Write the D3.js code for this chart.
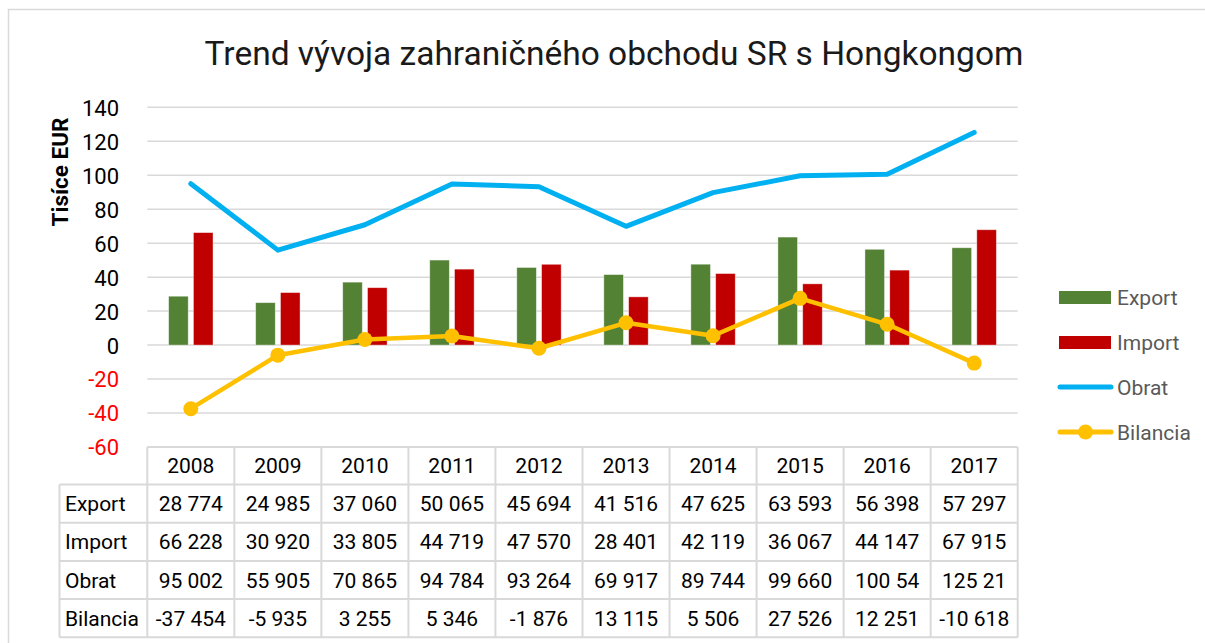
<!DOCTYPE html>
<html><head><meta charset="utf-8">
<script src="https://cdn.jsdelivr.net/npm/d3@7"></script>
<style>body{margin:0;background:#fff}svg{display:block}text{font-family:Roboto,"Open Sans",sans-serif}</style>
</head><body>
<svg id="c" width="1205" height="643"></svg>
<script>
const years = ["2008","2009","2010","2011","2012","2013","2014","2015","2016","2017"];
const exportVals = [28774,24985,37060,50065,45694,41516,47625,63593,56398,57297];
const importVals = [66228,30920,33805,44719,47570,28401,42119,36067,44147,67915];
const obratVals = [95002,55905,70865,94784,93264,69917,89744,99660,100545,125212];
const bilanciaVals = [-37454,-5935,3255,5346,-1876,13115,5506,27526,12251,-10618];
const yTicks = [140,120,100,80,60,40,20,0,-20,-40,-60];
const seriesNames = ["Export","Import","Obrat","Bilancia"];
const colors = {Export:"#548235",Import:"#C00000",Obrat:"#00B0F0",Bilancia:"#FFC000"};
const title = "Trend vývoja zahraničného obchodu SR s Hongkongom";
const yTitle = "Tisíce EUR";

const svg = d3.select("#c");
const L = 147.3, R = 1017.7;
const x = d3.scaleBand().domain(years).range([L,R]).padding(0);
const y = d3.scaleLinear().domain([-60,140]).range([447,107.3]);
const inner = d3.scaleBand().domain(["Export","Import"]).range([0,x.bandwidth()]).paddingInner(0.21).paddingOuter(0.86);

// frame
svg.append("rect").attr("x",8.5).attr("y",9.5).attr("width",1250).attr("height",700)
  .attr("fill","none").attr("stroke","#d9d9d9").attr("stroke-width",1.5);

// title
svg.append("text").attr("x",614).attr("y",65).attr("text-anchor","middle")
  .attr("font-size",33.5).attr("fill","#1a1a1a").text(title);

// gridlines
svg.append("g").selectAll("line").data(yTicks.filter(d=>d>-60)).join("line")
  .attr("x1",L).attr("x2",R).attr("y1",d=>y(d)).attr("y2",d=>y(d))
  .attr("stroke","#d9d9d9").attr("stroke-width",1.5);

// y axis labels
const yAxis = d3.axisLeft(y).tickValues(yTicks).tickSize(0).tickPadding(0).tickFormat(d=>String(d));
const ga = svg.append("g").attr("transform","translate(119,0)").call(yAxis);
ga.select(".domain").remove();
ga.selectAll("text").attr("font-size",22).attr("font-family","Roboto,sans-serif")
  .attr("fill",d=>d<0?"#FF0000":"#000").attr("dy","0.36em");

svg.append("text").attr("transform","translate(68,172) rotate(-90)").attr("text-anchor","middle")
  .attr("font-size",22.5).attr("font-weight","bold").attr("fill","#000").text(yTitle);

// bars
const barData = [];
years.forEach((yr,i)=>{
  barData.push({yr,s:"Export",v:exportVals[i]/1000});
  barData.push({yr,s:"Import",v:importVals[i]/1000});
});
svg.append("g").selectAll("rect").data(barData).join("rect")
  .attr("x",d=>x(d.yr)+inner(d.s)).attr("width",inner.bandwidth())
  .attr("y",d=>y(Math.max(0,d.v))).attr("height",d=>Math.abs(y(d.v)-y(0)))
  .attr("fill",d=>colors[d.s]).attr("stroke","#ffffff").attr("stroke-opacity",0.5).attr("stroke-width",0.8);

const cx = d=>x(d)+x.bandwidth()/2;
const line = d3.line().x(d=>cx(d.yr)).y(d=>y(d.v));
const obrat = years.map((yr,i)=>({yr,v:obratVals[i]/1000}));
const bil = years.map((yr,i)=>({yr,v:bilanciaVals[i]/1000}));
svg.append("path").datum(obrat).attr("d",line).attr("fill","none")
  .attr("stroke",colors.Obrat).attr("stroke-width",5).attr("stroke-linecap","round").attr("stroke-linejoin","round");
svg.append("path").datum(bil).attr("d",line).attr("fill","none")
  .attr("stroke",colors.Bilancia).attr("stroke-width",4.5).attr("stroke-linejoin","round");
svg.append("g").selectAll("circle").data(bil).join("circle")
  .attr("cx",d=>cx(d.yr)).attr("cy",d=>y(d.v)).attr("r",7.5).attr("fill",colors.Bilancia);

// legend
const lg = svg.append("g");
const ly = [297.5,342.5,387,432];
seriesNames.forEach((s,i)=>{
  if(i<2){
    lg.append("rect").attr("x",1059).attr("y",ly[i]-6.5).attr("width",52).attr("height",13).attr("fill",colors[s]);
  } else {
    lg.append("line").attr("x1",1060).attr("x2",1111).attr("y1",ly[i]).attr("y2",ly[i])
      .attr("stroke",colors[s]).attr("stroke-width",5).attr("stroke-linecap","round");
    if(s==="Bilancia") lg.append("circle").attr("cx",1085.5).attr("cy",ly[i]).attr("r",7.5).attr("fill",colors[s]);
  }
  lg.append("text").attr("x",1117).attr("y",ly[i]).attr("dy","0.36em").attr("font-size",21)
    .attr("fill","#595959").text(s);
});

// data table
const fmt = v=>{
  const neg = v<0; let s = String(Math.abs(v)).replace(/\B(?=(\d{3})+(?!\d))/g," ");
  if(s.length>6) s = s.slice(0,6);
  return (neg?"-":"")+s;
};
const rowVals = [exportVals,importVals,obratVals,bilanciaVals];
const headTop = 447, headBot = 484.5, rowH = 38.2;
const LabL = 59.5;
const tg = svg.append("g");
const gridC = "#d9d9d9";
tg.append("line").attr("x1",L).attr("x2",R).attr("y1",headTop).attr("y2",headTop).attr("stroke",gridC).attr("stroke-width",2);
for(let r=0;r<=4;r++){
  const yy = headBot + r*rowH;
  tg.append("line").attr("x1",LabL).attr("x2",R).attr("y1",yy).attr("y2",yy).attr("stroke",gridC).attr("stroke-width",2);
}
tg.append("line").attr("x1",LabL).attr("x2",LabL).attr("y1",headBot).attr("y2",headBot+4*rowH).attr("stroke",gridC).attr("stroke-width",2);
years.concat(["end"]).forEach((yr,i)=>{
  const xx = i<years.length? x(yr): R;
  tg.append("line").attr("x1",xx).attr("x2",xx).attr("y1",headTop).attr("y2",headBot+4*rowH).attr("stroke",gridC).attr("stroke-width",2);
});
tg.selectAll("text.h").data(years).join("text").attr("class","h")
  .attr("x",d=>cx(d)).attr("y",(headTop+headBot)/2).attr("dy","0.36em").attr("text-anchor","middle")
  .attr("font-size",21).attr("fill","#000").text(d=>d);
seriesNames.forEach((s,r)=>{
  const yy = headBot + r*rowH + rowH/2;
  tg.append("text").attr("x",65).attr("y",yy).attr("dy","0.36em").attr("font-size",21).attr("fill","#000").text(s);
  tg.selectAll("text.r"+r).data(rowVals[r]).join("text").attr("class","r"+r)
    .attr("x",(d,i)=>cx(years[i])).attr("y",yy).attr("dy","0.36em").attr("text-anchor","middle")
    .attr("font-size",21).attr("fill","#000").text(d=>fmt(d));
});
</script>
</body></html>
